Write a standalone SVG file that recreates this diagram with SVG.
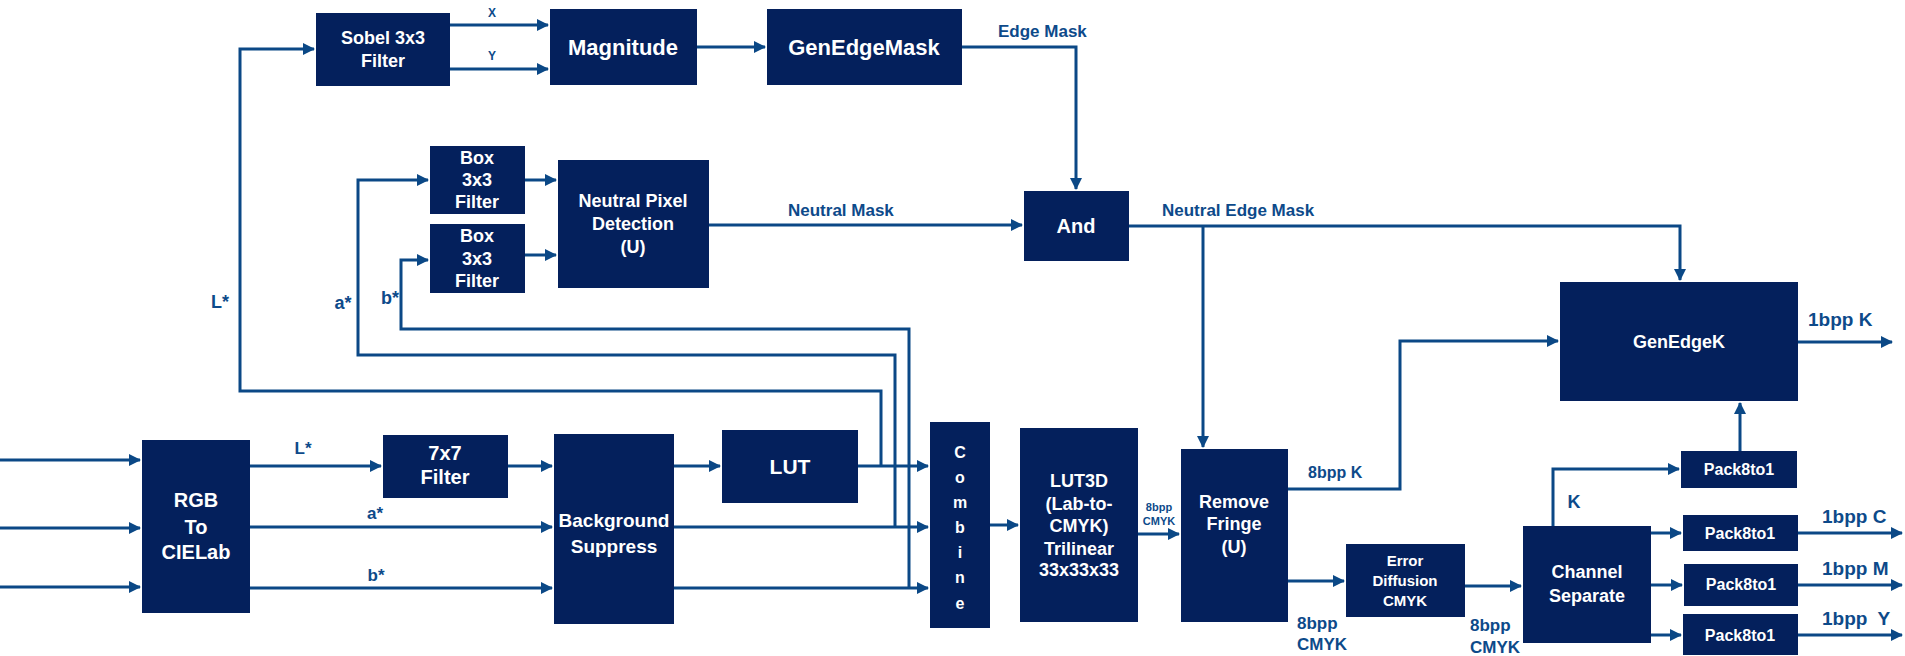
<svg xmlns="http://www.w3.org/2000/svg" width="1905" height="656" viewBox="0 0 1905 656">
<style>
.n{fill:#04205c}
.t{font-family:"Liberation Sans",Arial,sans-serif;font-weight:bold;fill:#fff;text-anchor:middle}
.l{font-family:"Liberation Sans",Arial,sans-serif;font-weight:bold;fill:#0d4a8a}
.c{fill:none;stroke:#0b4886;stroke-width:3}
</style>
<defs>
<marker id="a" markerUnits="userSpaceOnUse" markerWidth="12" markerHeight="12" refX="11" refY="6" orient="auto">
<path d="M0,0 L12,6 L0,12 z" fill="#0b4886"/>
</marker>
</defs>
<rect width="1905" height="656" fill="#fff"/>
<g id="connectors">
<path class="c" d="M0,460 H140" marker-end="url(#a)"/>
<path class="c" d="M0,528 H140" marker-end="url(#a)"/>
<path class="c" d="M0,587 H140" marker-end="url(#a)"/>
<path class="c" d="M250,466 H381" marker-end="url(#a)"/>
<path class="c" d="M508,466 H552" marker-end="url(#a)"/>
<path class="c" d="M250,527 H552" marker-end="url(#a)"/>
<path class="c" d="M250,588 H552" marker-end="url(#a)"/>
<path class="c" d="M674,466 H720" marker-end="url(#a)"/>
<path class="c" d="M858,466 H928" marker-end="url(#a)"/>
<path class="c" d="M674,527 H928" marker-end="url(#a)"/>
<path class="c" d="M674,588 H928" marker-end="url(#a)"/>
<path class="c" d="M881,466 V391 H240 V49 H314" marker-end="url(#a)"/>
<path class="c" d="M895,527 V355 H358 V180 H428" marker-end="url(#a)"/>
<path class="c" d="M909,588 V329 H401 V260 H428" marker-end="url(#a)"/>
<path class="c" d="M450,25 H548" marker-end="url(#a)"/>
<path class="c" d="M450,69 H548" marker-end="url(#a)"/>
<path class="c" d="M697,47 H765" marker-end="url(#a)"/>
<path class="c" d="M962,47 H1076 V189" marker-end="url(#a)"/>
<path class="c" d="M525,180 H556" marker-end="url(#a)"/>
<path class="c" d="M525,255 H556" marker-end="url(#a)"/>
<path class="c" d="M709,225 H1022" marker-end="url(#a)"/>
<path class="c" d="M1129,226 H1680 V280" marker-end="url(#a)"/>
<path class="c" d="M1203,226 V447" marker-end="url(#a)"/>
<path class="c" d="M990,525 H1018" marker-end="url(#a)"/>
<path class="c" d="M1138,534 H1179" marker-end="url(#a)"/>
<path class="c" d="M1288,489 H1400 V341 H1558" marker-end="url(#a)"/>
<path class="c" d="M1288,581 H1344" marker-end="url(#a)"/>
<path class="c" d="M1465,586 H1521" marker-end="url(#a)"/>
<path class="c" d="M1553,526 V469 H1679" marker-end="url(#a)"/>
<path class="c" d="M1740,451 V403" marker-end="url(#a)"/>
<path class="c" d="M1651,533 H1681" marker-end="url(#a)"/>
<path class="c" d="M1651,585 H1682" marker-end="url(#a)"/>
<path class="c" d="M1651,635 H1681" marker-end="url(#a)"/>
<path class="c" d="M1798,342 H1892" marker-end="url(#a)"/>
<path class="c" d="M1798,533 H1902" marker-end="url(#a)"/>
<path class="c" d="M1798,585 H1902" marker-end="url(#a)"/>
<path class="c" d="M1798,635 H1902" marker-end="url(#a)"/>
</g>
<g id="labels">
<text class="l" x="492" y="17" font-size="12" text-anchor="middle">X</text>
<text class="l" x="492" y="60" font-size="12" text-anchor="middle">Y</text>
<text class="l" x="998" y="37" font-size="17">Edge Mask</text>
<text class="l" x="220" y="308" font-size="18" text-anchor="middle">L*</text>
<text class="l" x="343" y="309" font-size="18" text-anchor="middle">a*</text>
<text class="l" x="390" y="304" font-size="18" text-anchor="middle">b*</text>
<text class="l" x="788" y="216" font-size="17">Neutral Mask</text>
<text class="l" x="1162" y="216" font-size="17">Neutral Edge Mask</text>
<text class="l" x="1808" y="326" font-size="19">1bpp K</text>
<text class="l" x="303" y="454" font-size="17" text-anchor="middle">L*</text>
<text class="l" x="375" y="519" font-size="17" text-anchor="middle">a*</text>
<text class="l" x="376" y="581" font-size="17" text-anchor="middle">b*</text>
<text class="l" x="1159" y="511" font-size="11" text-anchor="middle">8bpp</text>
<text class="l" x="1159" y="525" font-size="11" text-anchor="middle">CMYK</text>
<text class="l" x="1308" y="478" font-size="16">8bpp K</text>
<text class="l" x="1297" y="629" font-size="17">8bpp</text>
<text class="l" x="1297" y="650" font-size="17">CMYK</text>
<text class="l" x="1470" y="631" font-size="17">8bpp</text>
<text class="l" x="1470" y="653" font-size="17">CMYK</text>
<text class="l" x="1574" y="508" font-size="18" text-anchor="middle">K</text>
<text class="l" x="1822" y="523" font-size="19">1bpp C</text>
<text class="l" x="1822" y="575" font-size="19">1bpp M</text>
<text class="l" x="1822" y="625" font-size="19" xml:space="preserve">1bpp  Y</text>
</g>
<g id="sobel"><rect class="n" x="316" y="13" width="134" height="73"/><text class="t" font-size="18"><tspan x="383" y="44">Sobel 3x3</tspan><tspan x="383" y="67">Filter</tspan></text></g>
<g id="magnitude"><rect class="n" x="550" y="9" width="147" height="76"/><text class="t" x="623" y="55" font-size="22">Magnitude</text></g>
<g id="genedgemask"><rect class="n" x="767" y="9" width="195" height="76"/><text class="t" x="864" y="55" font-size="22">GenEdgeMask</text></g>
<g id="box1"><rect class="n" x="430" y="146" width="95" height="68"/><text class="t" font-size="18"><tspan x="477" y="164">Box</tspan><tspan x="477" y="186">3x3</tspan><tspan x="477" y="208">Filter</tspan></text></g>
<g id="box2"><rect class="n" x="430" y="224" width="95" height="69"/><text class="t" font-size="18"><tspan x="477" y="242">Box</tspan><tspan x="477" y="265">3x3</tspan><tspan x="477" y="287">Filter</tspan></text></g>
<g id="npd"><rect class="n" x="558" y="160" width="151" height="128"/><text class="t" font-size="18"><tspan x="633" y="207">Neutral Pixel</tspan><tspan x="633" y="230">Detection</tspan><tspan x="633" y="253">(U)</tspan></text></g>
<g id="and"><rect class="n" x="1024" y="191" width="105" height="70"/><text class="t" x="1076" y="233" font-size="20">And</text></g>
<g id="genedgek"><rect class="n" x="1560" y="282" width="238" height="119"/><text class="t" x="1679" y="348" font-size="18">GenEdgeK</text></g>
<g id="rgb"><rect class="n" x="142" y="440" width="108" height="173"/><text class="t" font-size="20"><tspan x="196" y="507">RGB</tspan><tspan x="196" y="534">To</tspan><tspan x="196" y="559">CIELab</tspan></text></g>
<g id="filter7"><rect class="n" x="383" y="435" width="125" height="63"/><text class="t" font-size="20"><tspan x="445" y="460">7x7</tspan><tspan x="445" y="484">Filter</tspan></text></g>
<g id="bgsuppress"><rect class="n" x="554" y="434" width="120" height="190"/><text class="t" font-size="19"><tspan x="614" y="527">Background</tspan><tspan x="614" y="553">Suppress</tspan></text></g>
<g id="lut"><rect class="n" x="722" y="430" width="136" height="73"/><text class="t" x="790" y="474" font-size="21">LUT</text></g>
<g id="combine"><rect class="n" x="930" y="422" width="60" height="206"/><text class="t" font-size="16"><tspan x="960" y="458">C</tspan><tspan x="960" y="483">o</tspan><tspan x="960" y="508">m</tspan><tspan x="960" y="533">b</tspan><tspan x="960" y="558">i</tspan><tspan x="960" y="583">n</tspan><tspan x="960" y="609">e</tspan></text></g>
<g id="lut3d"><rect class="n" x="1020" y="428" width="118" height="194"/><text class="t" font-size="18"><tspan x="1079" y="487">LUT3D</tspan><tspan x="1079" y="510">(Lab-to-</tspan><tspan x="1079" y="532">CMYK)</tspan><tspan x="1079" y="555">Trilinear</tspan><tspan x="1079" y="576">33x33x33</tspan></text></g>
<g id="removefringe"><rect class="n" x="1181" y="449" width="107" height="173"/><text class="t" font-size="18"><tspan x="1234" y="508">Remove</tspan><tspan x="1234" y="530">Fringe</tspan><tspan x="1234" y="553">(U)</tspan></text></g>
<g id="errordiffusion"><rect class="n" x="1346" y="544" width="119" height="73"/><text class="t" font-size="15"><tspan x="1405" y="566">Error</tspan><tspan x="1405" y="586">Diffusion</tspan><tspan x="1405" y="606">CMYK</tspan></text></g>
<g id="channelsep"><rect class="n" x="1523" y="526" width="128" height="117"/><text class="t" font-size="18"><tspan x="1587" y="578">Channel</tspan><tspan x="1587" y="602">Separate</tspan></text></g>
<g id="packk"><rect class="n" x="1681" y="451" width="116" height="37"/><text class="t" x="1739" y="475" font-size="16">Pack8to1</text></g>
<g id="packc"><rect class="n" x="1683" y="515" width="115" height="36"/><text class="t" x="1740" y="539" font-size="16">Pack8to1</text></g>
<g id="packm"><rect class="n" x="1684" y="564" width="114" height="42"/><text class="t" x="1741" y="590" font-size="16">Pack8to1</text></g>
<g id="packy"><rect class="n" x="1683" y="614" width="115" height="41"/><text class="t" x="1740" y="641" font-size="16">Pack8to1</text></g>
</svg>
